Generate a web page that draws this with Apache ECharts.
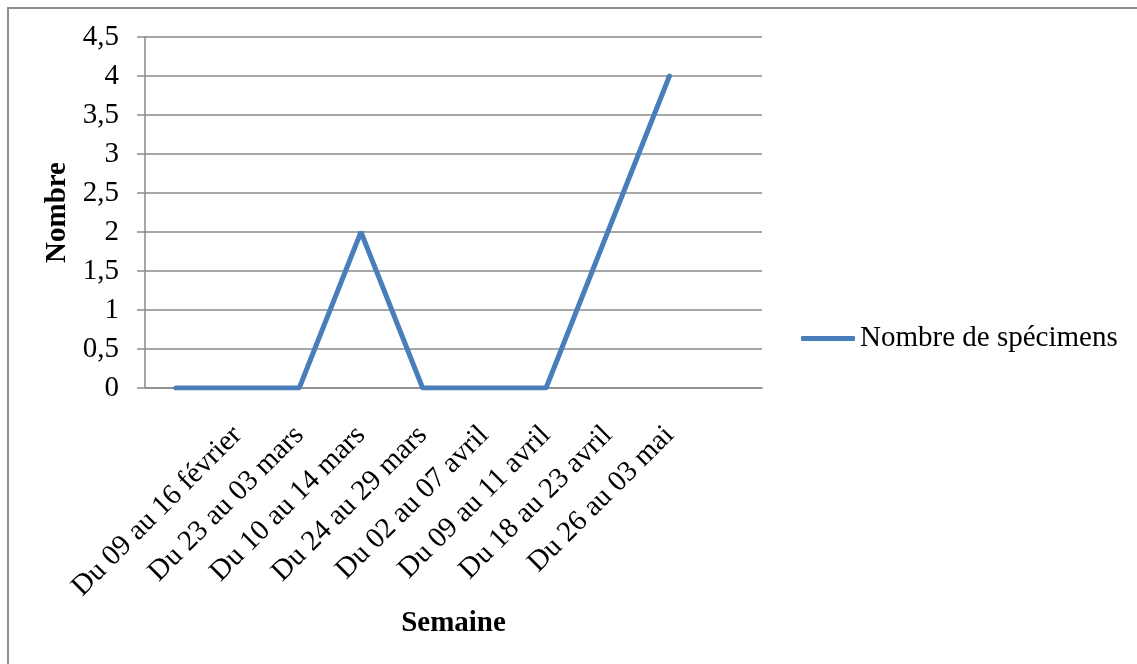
<!DOCTYPE html>
<html>
<head>
<meta charset="utf-8">
<script src="https://cdn.jsdelivr.net/npm/echarts@6/dist/echarts.min.js"></script>
<style>
  html, body { margin: 0; padding: 0; background: #ffffff; }
  #chart { width: 1137px; height: 664px; }
</style>
</head>
<body>
<div id="chart"></div>
<script>
// Weekly counts of collected specimens
const weeks = [
  '',
  'Du 09 au 16 février',
  'Du 23 au 03 mars',
  'Du 10 au 14 mars',
  'Du 24 au 29 mars',
  'Du 02 au 07 avril',
  'Du 09 au 11 avril',
  'Du 18 au 23 avril',
  'Du 26 au 03 mai',
  ''
];
const specimens = [0, 0, 0, 2, 0, 0, 0, 2, 4, null];
const seriesName = 'Nombre de spécimens';
const xTitle = 'Semaine';
const yTitle = 'Nombre';

const FONT = '"Liberation Serif", "Times New Roman", serif';
const FS = 29;
const GRID_GRAY = '#8a8a8a';
const LINE_BLUE = '#4a7ebb';

const chart = echarts.init(document.getElementById('chart'), null, { renderer: 'canvas' });

chart.setOption({
  backgroundColor: '#ffffff',
  animation: false,
  textStyle: { fontFamily: FONT, color: '#000' },
  graphic: [{
    type: 'rect',
    shape: { x: 8, y: 8, width: 1200, height: 720 },
    style: { fill: 'none', stroke: '#8f8f8f', lineWidth: 2 },
    silent: true
  }],
  grid: { left: 145, right: 375, top: 37, bottom: 276, containLabel: false },
  legend: {
    data: [seriesName],
    left: 796,
    top: 319,
    icon: 'roundRect',
    itemWidth: 54,
    itemHeight: 5,
    itemGap: 0,
    itemStyle: { color: LINE_BLUE },
    textStyle: { fontFamily: FONT, fontSize: FS, color: '#000' }
  },
  xAxis: {
    type: 'category',
    data: weeks,
    boundaryGap: true,
    name: xTitle,
    nameLocation: 'middle',
    nameGap: 221,
    nameTextStyle: { fontFamily: FONT, fontSize: FS, fontWeight: 'bold', color: '#000', verticalAlign: 'top' },
    axisLine: { show: true, lineStyle: { color: GRID_GRAY, width: 1.5 } },
    axisTick: { show: false },
    axisLabel: {
      interval: 0,
      rotate: 45,
      margin: 43,
      fontFamily: FONT,
      fontSize: FS,
      color: '#000'
    },
    splitLine: { show: false }
  },
  yAxis: {
    type: 'value',
    min: 0,
    max: 4.5,
    interval: 0.5,
    name: yTitle,
    nameLocation: 'middle',
    nameGap: 69,
    nameRotate: 90,
    nameTextStyle: { fontFamily: FONT, fontSize: FS, fontWeight: 'bold', color: '#000' },
    axisLine: { show: true, lineStyle: { color: GRID_GRAY, width: 1.5 } },
    axisTick: { show: true, inside: false, length: 8, lineStyle: { color: GRID_GRAY, width: 1.5 } },
    axisLabel: {
      margin: 26,
      fontFamily: FONT,
      fontSize: FS,
      color: '#000',
      formatter: v => String(v).replace('.', ',')
    },
    splitLine: { show: true, lineStyle: { color: GRID_GRAY, width: 1.5 } }
  },
  series: [{
    name: seriesName,
    type: 'line',
    data: specimens,
    symbol: 'none',
    connectNulls: false,
    color: LINE_BLUE,
    lineStyle: { color: LINE_BLUE, width: 5, cap: 'round' }
  }]
});
</script>
</body>
</html>
